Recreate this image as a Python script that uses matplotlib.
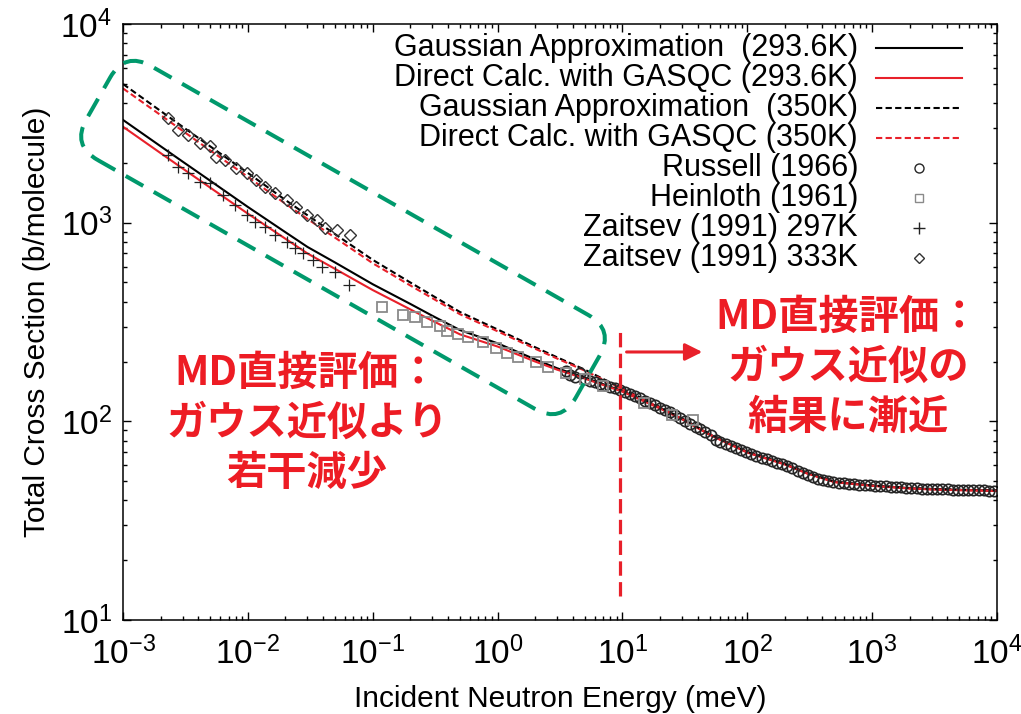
import matplotlib
matplotlib.use("Agg")
import matplotlib.pyplot as plt
from matplotlib.patches import FancyBboxPatch
from matplotlib.transforms import Affine2D
from matplotlib.ticker import LogLocator, LogFormatterSciNotation, NullFormatter

plt.rcParams['font.family'] = ['Liberation Sans', 'DejaVu Sans']
plt.rcParams['mathtext.fontset'] = 'custom'
plt.rcParams['mathtext.rm'] = 'Liberation Sans'
plt.rcParams['mathtext.it'] = 'Liberation Sans:italic'
plt.rcParams['mathtext.bf'] = 'Liberation Sans:bold'

# calculated curves (meV, b/molecule)
energy = [1e-3, 2e-3, 3e-3, 5e-3, 1e-2, 2e-2, 3e-2, 5e-2, 0.1, 0.2, 0.3, 0.5,
          1, 2, 3, 5, 10, 20, 30, 50, 100, 200, 300, 500, 1000, 2000, 3000, 5000, 10000]
gauss_293 = [3290, 2425, 2030, 1625, 1200, 895, 755, 630, 490, 390, 340, 288,
             247, 205, 185, 166, 142, 117, 103, 86, 70, 61, 55, 49.6, 47.5, 46.1, 45.6, 45.2, 44.8]
direct_293 = [3040, 2240, 1875, 1500, 1110, 830, 700, 585, 458, 366, 321, 274,
              238, 200, 182, 164, 141, 116, 102.5, 85.5, 69.6, 60.6, 54.7, 49.4, 47.3, 45.9, 45.4, 45.0, 44.6]
gauss_350 = [4990, 3650, 3040, 2420, 1780, 1300, 1090, 875, 650, 500, 430, 355,
             290, 236, 210, 182, 146, 118, 103.5, 86.3, 70.2, 61.1, 55.1, 49.7, 47.6, 46.2, 45.7, 45.3, 44.9]
direct_350 = [4740, 3480, 2900, 2310, 1700, 1245, 1045, 840, 625, 483, 417, 346,
              284, 232, 207, 180, 145, 117, 102.8, 85.8, 69.8, 60.8, 54.8, 49.5, 47.4, 46.0, 45.5, 45.1, 44.7]

# experimental data
russell_e = [3.5, 3.8, 4.2, 4.6, 5.0, 5.5, 6.0, 6.6, 7.2, 8.0, 8.8, 9.6, 10.5, 11.5, 12.6,
             13.8, 15.1, 16.6, 18.2, 20, 22, 24, 26.5, 29, 32, 35, 38.5, 42, 46, 51, 56, 61,
             67, 74, 81, 89, 98, 108, 118, 130, 143, 157, 172, 190, 209, 230, 253, 278, 305,
             335, 368, 405, 445, 490, 540, 595, 655, 720, 790, 870, 960, 1060, 1160, 1280,
             1410, 1550, 1700, 1870, 2060, 2270, 2500, 2750, 3020, 3320, 3650, 4020, 4420,
             4860, 5350, 5880, 6470, 7120, 7830, 8610, 9470]
russell_s = [180, 172, 168, 176, 163, 160, 158, 155, 153, 149, 147, 143, 141, 137, 134,
             131, 127, 124, 121, 117, 114, 111, 107, 104, 100, 97, 94, 91, 88, 85, 81, 79,
             77, 75, 73, 71.5, 70, 68.5, 67, 65.5, 64.5, 63, 62, 61, 59.5, 58, 56.5, 55, 53.5,
             52.5, 51.5, 50.5, 50, 49.6, 49.2, 48.8, 48.5, 48.2, 48, 47.8, 47.6, 47.4, 47.2, 47,
             46.8, 46.6, 46.5, 46.3, 46.2, 46, 45.9, 45.8, 45.7, 45.6, 45.5, 45.4, 45.3,
             45.3, 45.2, 45.1, 45, 45, 44.9, 44.8, 44.8]
heinloth_e = [0.118, 0.175, 0.218, 0.27, 0.345, 0.39, 0.48, 0.58, 0.77, 0.98, 1.18, 1.46,
              2.05, 2.54, 3.5, 5.0, 7.0, 15, 25, 36.6]
heinloth_s = [378, 343, 336, 318, 302, 285, 274, 267, 252, 233, 220, 212,
              200, 188, 176, 163, 151, 124, 107, 102]
zaitsev297_e = [2.31e-3, 2.77e-3, 3.33e-3, 4.13e-3, 4.97e-3, 6.35e-3, 7.9e-3, 9.8e-3, 1.14e-2,
                1.37e-2, 1.65e-2, 2.04e-2, 2.38e-2, 2.78e-2, 3.34e-2, 3.9e-2, 4.98e-2, 6.4e-2]
zaitsev297_s = [2190, 1915, 1775, 1610, 1580, 1380, 1230, 1095, 1012,
                955, 870, 800, 743, 700, 650, 600, 567, 485]
zaitsev333_e = [2.31e-3, 2.77e-3, 3.33e-3, 4.13e-3, 4.97e-3, 5.6e-3, 6.56e-3, 8.1e-3, 9.8e-3,
                1.17e-2, 1.37e-2, 1.65e-2, 2.04e-2, 2.45e-2, 2.95e-2, 3.55e-2, 4.14e-2, 5.14e-2, 6.56e-2]
zaitsev333_s = [3350, 2930, 2760, 2510, 2420, 2150, 2070, 1880, 1775,
                1640, 1520, 1405, 1300, 1200, 1095, 1030, 940, 920, 870]

labels = ['Gaussian Approximation  (293.6K)', 'Direct Calc. with GASQC (293.6K)',
          'Gaussian Approximation  (350K)', 'Direct Calc. with GASQC (350K)',
          'Russell (1966)', 'Heinloth (1961)', 'Zaitsev (1991) 297K', 'Zaitsev (1991) 333K']

RED = '#e8202a'
JRED = '#ed1c24'
GREEN = '#00996c'

fig = plt.figure(figsize=(10.21, 7.14), dpi=100)
ax = fig.add_axes([0.12047, 0.13165, 0.85602, 0.83473])

styles = [
    dict(color='black', lw=1.5, ls='-'),
    dict(color=RED, lw=1.5, ls='-'),
    dict(color='black', lw=1.5, ls=(0, (3, 1.6))),
    dict(color=RED, lw=1.5, ls=(0, (3, 1.6))),
    dict(ls='none', marker='o', ms=7.5, mfc='none', mec='#262626', mew=1.2),
    dict(ls='none', marker='s', ms=7, mfc='none', mec='#8a8a8a', mew=1.3),
    dict(ls='none', marker='+', ms=9, color='#222222', mew=0.9),
    dict(ls='none', marker='D', ms=6, mfc='none', mec='#333333', mew=1.0),
]
series = [(energy, gauss_293), (energy, direct_293), (energy, gauss_350), (energy, direct_350),
          (russell_e, russell_s), (heinloth_e, heinloth_s),
          (zaitsev297_e, zaitsev297_s), (zaitsev333_e, zaitsev333_s)]

for (x, y), st in zip(series, styles):
    ax.plot(x, y, **st)

ax.set_xscale('log')
ax.set_yscale('log')
ax.set_xlim(1e-3, 1e4)
ax.set_ylim(10, 1e4)
ax.xaxis.set_major_locator(LogLocator(base=10, numticks=20))
ax.yaxis.set_major_locator(LogLocator(base=10, numticks=20))
ax.xaxis.set_minor_locator(LogLocator(base=10, subs=range(2, 10), numticks=100))
ax.yaxis.set_minor_locator(LogLocator(base=10, subs=range(2, 10), numticks=100))
ax.xaxis.set_major_formatter(LogFormatterSciNotation())
ax.yaxis.set_major_formatter(LogFormatterSciNotation())
ax.xaxis.set_minor_formatter(NullFormatter())
ax.yaxis.set_minor_formatter(NullFormatter())
ax.tick_params(which='both', direction='in', top=True, right=True, width=1.0, colors='black')
ax.tick_params(which='major', length=6)
ax.tick_params(which='minor', length=3)
ax.tick_params(axis='x', which='major', labelsize=24, pad=12)
ax.tick_params(axis='y', which='major', labelsize=24, pad=8)
for sp in ax.spines.values():
    sp.set_linewidth(1.1)

ax.set_xlabel('Incident Neutron Energy (meV)', fontsize=21.5)
ax.set_ylabel('Total Cross Section (b/molecule)', fontsize=21.5)
ax.xaxis.set_label_coords(0.5, -0.133)
ax.xaxis.label.set_va('center')
ax.yaxis.set_label_coords(-0.098, 0.5)
ax.yaxis.label.set_va('center')

# legend drawn gnuplot style: right aligned text, sample on the right
row0 = 0.9597
step = 0.05034
for i, (lab, st) in enumerate(zip(labels, styles)):
    yy = row0 - i * step
    ax.text(0.841, yy, lab, transform=ax.transAxes, ha='right', va='center', fontsize=22)
    if st.get('ls') == 'none':
        mst = dict(st)
        mst['ms'] = st['ms'] - 1
        mst['mew'] = 1.0
        ax.plot([0.9108], [yy], transform=ax.transAxes, clip_on=False, **mst)
    else:
        ax.plot([0.8616, 0.960], [yy, yy], transform=ax.transAxes, **st)

# 10 meV boundary and arrow
ax.axvline(9.6, ymin=0.040, ymax=0.485, color=RED, lw=2.3, ls=(0, (4.5, 2)))
ax.annotate('', xy=(0.666, 0.4497), xytext=(0.573, 0.4497), xycoords='axes fraction',
            arrowprops=dict(arrowstyle='-|>', color=RED, lw=2.2, mutation_scale=26))

# tilted rounded box around the low-energy region
box_tr = Affine2D().rotate_deg(-29.65).translate(343, 476.5).scale(1 / 1021, 1 / 714) + fig.transFigure
box = FancyBboxPatch((-281.5, -54), 563, 108, boxstyle='round,pad=0,rounding_size=30',
                     transform=box_tr, fill=False, edgecolor=GREEN, lw=2.9,
                     ls=(0, (5, 3)), clip_on=False, zorder=5)
fig.add_artist(box)

jp = dict(family=['Noto Sans CJK JP', 'DejaVu Sans'], weight='bold', fontsize=29,
          color=JRED, ha='center', va='center', zorder=6)
left_lines = ['MD直接評価：', 'ガウス近似より', '若干減少']
right_lines = ['MD直接評価：', 'ガウス近似の', '結果に漸近']
for i, t in enumerate(left_lines):
    fig.text(0.3007, 0.4776 - i * 0.0700, t, **jp)
for i, t in enumerate(right_lines):
    fig.text(0.8306, 0.5560 - i * 0.0700, t, **jp)

fig.savefig('out.png', dpi=100)
